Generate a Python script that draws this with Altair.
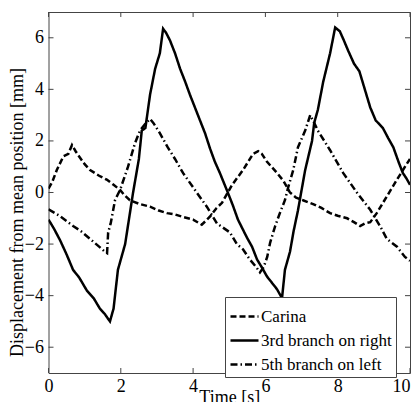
import altair as alt
import pandas as pd

# Carina (dashed)
carina_t = [0.0, 0.1, 0.23, 0.41, 0.55, 0.65, 0.75, 0.82, 1.0, 1.15, 1.4, 1.61, 1.8, 1.98, 2.1, 2.25,
            2.53, 2.81, 3.05, 3.28, 3.5, 3.72, 4.0, 4.24, 4.35, 4.47, 4.65, 4.8, 5.08, 5.38, 5.66, 5.8,
            5.9, 6.04, 6.32, 6.5, 6.68, 6.85, 7.04, 7.32, 7.55, 7.79, 8.0, 8.26, 8.45, 8.62, 8.75, 8.9,
            9.08, 9.36, 9.64, 9.92, 10.0]
carina_y = [0.15, 0.4, 0.87, 1.4, 1.5, 1.84, 1.6, 1.45, 1.1, 0.87, 0.65, 0.5, 0.3, 0.1, -0.1, -0.3,
            -0.45, -0.55, -0.7, -0.8, -0.85, -0.95, -1.05, -1.25, -1.1, -0.93, -0.6, -0.4, 0.3, 0.87, 1.5, 1.6,
            1.5, 1.2, 0.76, 0.45, 0.0, -0.2, -0.3, -0.45, -0.6, -0.8, -0.9, -1.0, -1.15, -1.3, -1.2, -1.15,
            -0.8, -0.15, 0.5, 1.13, 1.3]

# 3rd branch on right (solid)
right_t = [0.0, 0.15, 0.32, 0.5, 0.68, 0.85, 1.06, 1.25, 1.42, 1.55, 1.7, 1.8, 1.92, 2.12, 2.34, 2.5,
           2.58, 2.68, 2.81, 2.95, 3.08, 3.17, 3.25, 3.36, 3.5, 3.64, 3.78, 3.91, 4.05, 4.19, 4.33, 4.47,
           4.6, 4.74, 4.96, 5.1, 5.24, 5.49, 5.63, 5.77, 5.9, 6.04, 6.18, 6.32, 6.46, 6.54, 6.68, 6.78,
           6.9, 7.1, 7.29, 7.35, 7.45, 7.6, 7.79, 7.93, 8.06, 8.17, 8.29, 8.45, 8.6, 8.75, 8.9, 9.05,
           9.25, 9.4, 9.54, 9.68, 9.8, 9.9, 10.0]
right_y = [-1.05, -1.4, -1.85, -2.4, -3.0, -3.3, -3.8, -4.1, -4.5, -4.7, -5.0, -4.5, -3.0, -2.0, 0.0, 1.3,
           2.4, 2.5, 3.8, 4.8, 5.4, 6.35, 6.2, 5.9, 5.4, 4.8, 4.3, 3.8, 3.3, 2.8, 2.3, 1.7,
           1.2, 0.76, 0.0, -0.5, -1.05, -1.75, -2.1, -2.6, -2.9, -3.25, -3.5, -3.75, -4.1, -3.0, -2.3, -1.5,
           -0.7, 0.87, 2.0, 2.7, 3.2, 4.3, 5.4, 6.4, 6.25, 5.9, 5.5, 5.0, 4.7, 4.0, 3.3, 2.8,
           2.5, 2.1, 1.75, 1.2, 0.76, 0.55, 0.3]

# 5th branch on left (dash-dot)
left_t = [0.0, 0.3, 0.68, 0.9, 1.15, 1.4, 1.56, 1.62, 1.65, 1.72, 1.84, 1.98, 2.2, 2.39, 2.53, 2.7,
          2.81, 2.9, 3.08, 3.3, 3.5, 3.72, 4.1, 4.38, 4.66, 5.02, 5.21, 5.38, 5.57, 5.75, 5.85, 5.95,
          6.05, 6.13, 6.27, 6.4, 6.54, 6.63, 6.77, 6.9, 7.1, 7.24, 7.35, 7.45, 7.79, 8.15, 8.53, 8.9,
          9.17, 9.36, 9.64, 9.86, 10.0]
left_y = [-0.65, -0.9, -1.3, -1.5, -1.8, -2.1, -2.3, -2.35, -1.55, -1.2, -0.3, 0.1, 1.0, 1.9, 2.4, 2.7,
          2.85, 2.7, 2.3, 1.75, 1.3, 0.76, 0.0, -0.55, -1.2, -1.55, -2.0, -2.2, -2.6, -2.9, -3.1, -2.9,
          -2.5, -1.95, -1.3, -0.8, -0.3, 0.2, 0.87, 1.75, 2.4, 3.0, 2.7, 2.4, 1.64, 0.76, 0.0, -0.67,
          -1.3, -1.8, -2.1, -2.5, -2.65]

series_names = ["Carina", "3rd branch on right", "5th branch on left"]
x_ticks = [0, 2, 4, 6, 8, 10]
y_ticks = [-6, -4, -2, 0, 2, 4, 6]

rows = []
for name, ts, ys in zip(series_names, [carina_t, right_t, left_t], [carina_y, right_y, left_y]):
    for i, (t, y) in enumerate(zip(ts, ys)):
        rows.append({"series": name, "t": t, "y": y, "i": i})
df = pd.DataFrame(rows)

W = 361.5
H = 361
FONT = "Liberation Serif"
AXC = "#444444"

xs = alt.Scale(domain=[0, 10], nice=False)
ys = alt.Scale(domain=[-7, 7], nice=False)

lines = alt.Chart(df).mark_line(color="black", strokeWidth=2.5, clip=True).encode(
    x=alt.X("t:Q", scale=xs,
            axis=alt.Axis(values=x_ticks, title="Time [s]", tickSize=0, grid=False, domain=False,
                          labelPadding=4, titlePadding=-7, format="d",
                          labelFont=FONT, titleFont=FONT, labelFontSize=18, titleFontSize=18,
                          labelColor="#000000", titleColor="#000000",
                          labelAlign={"condition": {"test": "datum.value == 10", "value": "right"},
                                      "value": "center"})),
    y=alt.Y("y:Q", scale=ys,
            axis=alt.Axis(values=y_ticks, title="Displacement from mean position [mm]", tickSize=0,
                          grid=False, domain=False, labelPadding=5, titlePadding=-2,
                          labelFont=FONT, titleFont=FONT, labelFontSize=18, titleFontSize=18,
                          labelColor="#000000", titleColor="#000000",
                          titleY=200, titleAlign="center",
                          labelExpr="replace(datum.label, '-', '\u2212')")),
    strokeDash=alt.StrokeDash("series:N",
                              scale=alt.Scale(domain=series_names,
                                              range=[[6, 3], [1, 0], [7, 3, 1.5, 3]]),
                              legend=alt.Legend(title=None)),
    detail="series:N",
    order="i:Q",
)

xt = pd.DataFrame({"v": x_ticks})
yt = pd.DataFrame({"v": y_ticks})
tick_bottom = alt.Chart(xt).mark_rule(color=AXC, strokeWidth=1).encode(
    x=alt.X("v:Q", scale=xs), y=alt.value(H), y2=alt.value(H - 5))
tick_top = alt.Chart(xt).mark_rule(color=AXC, strokeWidth=1).encode(
    x=alt.X("v:Q", scale=xs), y=alt.value(0), y2=alt.value(5))
tick_left = alt.Chart(yt).mark_rule(color=AXC, strokeWidth=1).encode(
    y=alt.Y("v:Q", scale=ys), x=alt.value(0), x2=alt.value(5))
tick_right = alt.Chart(yt).mark_rule(color=AXC, strokeWidth=1).encode(
    y=alt.Y("v:Q", scale=ys), x=alt.value(W), x2=alt.value(W - 5))

chart = alt.layer(lines, tick_bottom, tick_top, tick_left, tick_right).properties(
    width=W, height=H,
    autosize=alt.AutoSizeParams(type="none"),
    padding={"left": 40.5, "top": 4, "right": 1, "bottom": 29},
).configure_view(
    stroke=AXC, strokeWidth=1
).configure_axis(
    titleFontWeight="normal",
).configure_legend(
    orient="none", legendX=176.5, legendY=285,
    fillColor="white", strokeColor=AXC, padding=4,
    labelFont=FONT, labelFontSize=17, labelColor="black", labelOffset=1,
    symbolType="stroke", symbolSize=784, symbolStrokeWidth=2.5, symbolStrokeColor="black",
    rowPadding=0, labelLimit=300,
)

chart.save("out.html", embed_options={"renderer": "svg", "actions": False})
